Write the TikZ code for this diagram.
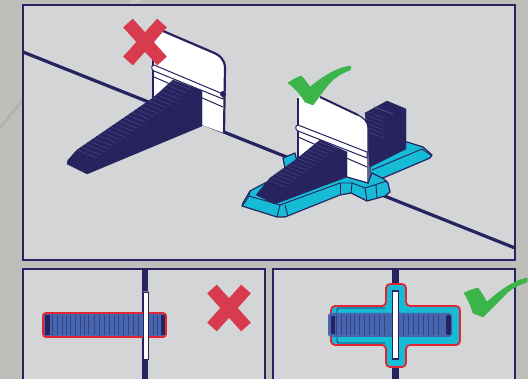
\documentclass[tikz,border=0pt]{standalone}
\usetikzlibrary{calc}
\definecolor{navy}{HTML}{27235F}
\definecolor{panelgray}{HTML}{D4D5D7}
\definecolor{bggray}{HTML}{BEBEBA}
\definecolor{crossred}{HTML}{D93B4E}
\definecolor{tickgreen}{HTML}{3BB54A}
\definecolor{basecyan}{HTML}{16BCD6}
\definecolor{ribblue}{HTML}{4666B0}
\definecolor{outred}{HTML}{E32532}
\definecolor{riblight}{HTML}{46467F}
\tikzset{
  panel/.style={draw=navy,fill=panelgray,line width=2pt},
  groundline/.style={draw=navy,line width=3.2pt},
  crossarm/.style={draw=crossred,line width=13pt},
  tickmark/.style={fill=tickgreen,draw=tickgreen,line width=.5pt,line join=round},
  plate/.style={fill=white,draw=navy,line width=1.4pt,line join=round},
  wedge/.style={fill=navy,draw=navy,line width=.4pt,line join=round},
  basefill/.style={fill=basecyan,draw=navy,line width=1.2pt,line join=round},
  baseedge/.style={draw=navy,line width=.9pt},
  ribline/.style={draw=riblight,line width=.5pt},
  outline/.style={draw=outred,line width=1.8pt,rounded corners=3pt}
}
\begin{document}
\begin{tikzpicture}[x=1pt,y=-1pt]
\useasboundingbox (0,0) rectangle (528,379);
\fill[bggray] (0,0) rectangle (528,379);
\draw[black,opacity=.07,line width=2.5pt] (0,128) .. controls (8,118) and (16,108) .. (23,100);
\draw[white,opacity=.2,line width=2.5pt] (130,3) -- (140,0);

% ---- top panel
\draw[panel] (23,5) rectangle (515,260);
\draw[groundline] (23,52) -- (515,248);

% left spacer
\fill[white] (153,45) -- (163,31) -- (212,52) .. controls (220,55) and (225,60) .. (225,68) -- (224,133) -- (202,125) -- (202,90) -- (153,98) -- cycle;
\draw[navy,line width=2.2pt] (163,31) -- (212,52) .. controls (220,55) and (225,60) .. (225,68) -- (224,133);
\draw[navy,line width=1.2pt] (153,45) -- (153,99);
\draw[plate,line width=1pt] (154,65) -- (223,94) -- (223,99) -- (154,71) .. controls (151,70) and (151,65) .. (154,65) -- cycle;
\draw[navy,line width=1pt] (154,77) -- (223,107);
\fill[navy] (223,94) circle[radius=3pt];
\path[wedge] (173,80) -- (153,98) -- (77,150) -- (68,160) -- (67,164) -- (87,174) -- (202,126) -- (202,91) -- cycle;
\begin{scope}
\clip (173,80) -- (153,98) -- (77,150) -- (68,160) -- (67,164) -- (87,174) -- (202,126) -- (202,91) -- cycle;
\foreach \t in {0,...,24}{
  \draw[ribline] ($(77,150)!\t/24!(175,79)$) -- ++(20,8);
}
\end{scope}
\draw[crossarm] (128,23) -- (162,61);
\draw[crossarm] (162,23) -- (128,61);

% right spacer: base
\path[basefill] (283,158) -- (295,153) -- (300,175) -- (285,168) -- cycle;
\path[basefill] (383,178) -- (430,158) -- (432,155) -- (423,147) -- (407,142) -- (370,155) -- (370,182) -- cycle;
\draw[baseedge] (372,170) -- (422,149) -- (432,156);
\path[wedge] (365,113) -- (387,101) -- (406,109) -- (406,149) -- (370,167) -- cycle;
\draw[ribline,line width=1.2pt] (374,107) -- (393,114);
\begin{scope}
\clip (365,113) -- (387,101) -- (406,109) -- (406,149) -- (370,167) -- cycle;
\foreach \y in {111,115,...,131}{ \draw[ribline] (366,\y) -- (384,\y+7); }
\end{scope}
\path[basefill] (243,203) -- (250,191) -- (265,183) -- (347,150) -- (368,183) -- (372,173) -- (384,179) -- (388,183) -- (390,192) -- (385,196) -- (367,201) -- (351,193) -- (340,195) -- (285,217) -- (277,217) -- (242,206) -- cycle;
\draw[baseedge] (243,205) -- (249,196) -- (280,205) -- (340,183) -- (352,183) -- (365,188) -- (387,181);
\draw[baseedge] (250,191) -- (249,196);
\draw[baseedge] (280,205) -- (277,217);
\draw[baseedge] (285,205) -- (288,216);
\draw[baseedge] (340,183) -- (340,195);
\draw[baseedge] (352,183) -- (351,193);
\draw[baseedge] (365,188) -- (367,201);
\draw[baseedge] (376,185) -- (377,198);
% right plate
\path[fill=white] (298,97) -- (320,97) -- (358,115) .. controls (364,118) and (368,122) .. (368,128) -- (368,183) -- (347,177) -- (347,152) -- (320,140) -- (298,158) -- cycle;
\draw[navy,line width=1.2pt] (298,98) -- (298,158);
\draw[navy,line width=1.2pt] (358,115) .. controls (364,118) and (368,122) .. (368,128) -- (368,183) -- (347,177);
\draw[plate,line width=1pt] (298,125) -- (367,152) -- (367,158) -- (298,131) .. controls (295,130) and (295,125) .. (298,125) -- cycle;
\draw[navy,line width=1pt] (298,137) -- (367,167);
\draw[navy,line width=2pt] (320,97) -- (358,115);
\path[wedge] (320,140) -- (298,158) -- (270,178) -- (256,195) -- (275,204) -- (347,177) -- (347,152) -- cycle;
\begin{scope}
\clip (320,140) -- (298,158) -- (270,178) -- (256,195) -- (275,204) -- (347,177) -- (347,152) -- cycle;
\foreach \t in {0,...,15}{
  \draw[ribline] ($(268,180)!\t/15!(322,139)$) -- ++(18,7);
}
\end{scope}
\path[tickmark] (288,83) .. controls (292,80) and (296,78) .. (301,76) .. controls (304,78) and (307,83) .. (310,87) .. controls (320,79) and (335,68) .. (350,66) .. controls (352,66) and (351,69) .. (350,70) .. controls (340,74) and (334,78) .. (329,84) .. controls (322,92) and (317,100) .. (313,105) -- (305,102) .. controls (301,95) and (295,88) .. (288,83) -- cycle;

% ---- lower left panel
\draw[panel] (23,269) rectangle (265,385);
\fill[navy] (142,269) rectangle (148,379);
\fill[ribblue] (44,314) rectangle (165,336);
\foreach \x/\w in {46/2,52/1,57/.6,62/1,66/.6,70/1.2,75/.6,80/1,84/.6,88/1.4,94/.6,99/1,104/.6,109/1,114/.6,118/1.2,123/.6,128/1,133/.6,138/1,153/.6,157/1}{
  \fill[navy!55!ribblue] (\x,315) rectangle ++(\w,20);
}
\fill[navy] (45,315) rectangle (50,335);
\fill[navy] (161,315) rectangle (165,335);
\draw[outline] (43,313) rectangle (166,337);
\fill[navy!50!panelgray] (142.5,291) rectangle (149,360);
\draw[navy,line width=.4pt,fill=white] (143,292) rectangle (148,359);
\draw[crossarm] (212,289) -- (246,327);
\draw[crossarm] (246,289) -- (212,327);

% ---- lower right panel
\draw[panel] (273,269) rectangle (515,385);
\fill[navy] (392,269) rectangle (399,379);
\path[fill=basecyan,draw=outred,line width=1.8pt,rounded corners=4pt] (386,284) -- (406,284) -- (406,306) -- (460,306) -- (460,345) -- (406,345) -- (406,367) -- (386,367) -- (386,345) -- (331,345) -- (331,306) -- (386,306) -- cycle;
\draw[navy,line width=.7pt,rounded corners=2pt] (385,343) -- (337,343) -- (337,308) -- (385,308);
\fill[ribblue,rounded corners=3pt] (328,313) rectangle (452,337);
\foreach \x/\w in {336/1,341/.6,346/1,350/.6,354/1.2,359/.6,364/1,369/.6,374/1,379/.6,384/1,403/.6,408/1,413/.6,418/1.2,423/.6,428/1,433/.6,438/1}{
  \fill[navy!55!ribblue] (\x,315) rectangle ++(\w,20);
}
\fill[navy] (331,316) rectangle (335,334);
\fill[navy,rounded corners=2pt] (446,315) rectangle (451,335);
\draw[navy,line width=1.1pt,fill=white] (392.5,291) rectangle (398.5,359);
\path[tickmark] (464,293) .. controls (468,291) and (473,289) .. (478,288) .. controls (481,292) and (484,297) .. (487,302) .. controls (497,293) and (512,281) .. (527,278) -- (527,282) .. controls (515,286) and (508,291) .. (503,297) .. controls (496,304) and (489,311) .. (483,317) -- (473,313) .. controls (471,306) and (468,299) .. (464,293) -- cycle;
\end{tikzpicture}
\end{document}
